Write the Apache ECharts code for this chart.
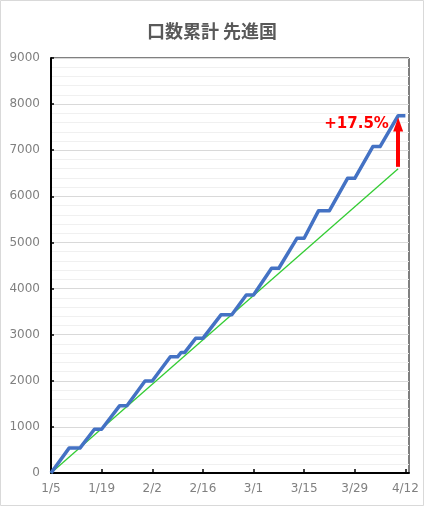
<!DOCTYPE html>
<html><head><meta charset="utf-8">
<script src="https://cdn.jsdelivr.net/npm/echarts@6/dist/echarts.min.js"></script>
<style>html,body{margin:0;padding:0;background:#fff}#c{width:424px;height:506px}</style>
</head><body><div id="c"></div>
<script>
const titleText = '口数累計 先進国';
const blueDates  = ['1/5','1/10','1/13','1/17','1/19','1/24','1/26','1/31','2/2','2/7','2/9','2/10','2/11','2/14','2/16','2/21','2/24','2/28','3/1','3/6','3/8','3/13','3/15','3/19','3/22','3/27','3/29','4/3','4/5','4/10','4/12'];
const blueValues = [0,540,540,950,950,1460,1460,1995,1995,2520,2520,2615,2615,2920,2920,3430,3430,3860,3860,4440,4440,5090,5090,5690,5690,6390,6390,7080,7080,7750,7750];
const trendDates = ['1/5','4/10'];
const trendValues = [0,6600];
const arrowDate = '4/10';
const arrowValues = [6640,7560];
const annotationText = '+17.5%';
const annotationDate = '3/29';
const annotationValue = 7570;
const xTickLabels = ['1/5','1/19','2/2','2/16','3/1','3/15','3/29','4/12'];
const xMaxDate = '4/13';

function dayOf(md){const [m,d]=md.split('/').map(Number);return Math.round((Date.UTC(2020,m-1,d)-Date.UTC(2020,0,5))/86400000);}
const blueData = blueDates.map((d,i)=>[dayOf(d),blueValues[i]]);
const trendData = trendDates.map((d,i)=>[dayOf(d),trendValues[i]]);
const font = 'DejaVu Sans';

const chart = echarts.init(document.getElementById('c'),null,{renderer:'canvas'});
chart.setOption({
  animation:false,
  backgroundColor:'#fff',
  title:{text:titleText,left:'center',top:17,textStyle:{fontFamily:'Noto Sans CJK JP',fontSize:18,fontWeight:'bold',color:'#595959'}},
  graphic:[{type:'rect',shape:{x:0.5,y:0.5,width:423,height:505},style:{fill:'none',stroke:'#d9d9d9',lineWidth:1},silent:true}],
  grid:{left:51,right:15,top:58,bottom:33,show:true,borderColor:'#000',borderWidth:1,backgroundColor:'transparent'},
  xAxis:{type:'value',min:0,max:dayOf(xMaxDate),interval:14,
    axisLine:{lineStyle:{color:'#000',width:2}},
    axisTick:{inside:true,length:4,lineStyle:{color:'#000',width:1.5}},
    axisLabel:{margin:10,fontFamily:font,fontSize:12,color:'#808080',showMaxLabel:false,
      formatter:v=>(v%14===0&&xTickLabels[v/14]!==undefined)?xTickLabels[v/14]:''},
    splitLine:{show:false}},
  yAxis:{type:'value',min:0,max:9000,interval:1000,
    axisLine:{show:true,lineStyle:{color:'#000',width:2}},
    axisTick:{show:true,inside:true,length:3,lineStyle:{color:'#000',width:1.5}},
    axisLabel:{margin:11,fontFamily:font,fontSize:12,color:'#808080',formatter:v=>String(v)},
    splitLine:{lineStyle:{color:'#d9d9d9',width:1}},
    minorTick:{show:false,splitNumber:5},
    minorSplitLine:{show:true,lineStyle:{color:'#f0f0f0',width:1}}},
  series:[
    {type:'line',data:trendData,symbol:'none',lineStyle:{color:'#33cc33',width:1.3},z:2,
     markLine:{silent:true,symbol:['none','triangle'],symbolSize:[10,14],
       lineStyle:{color:'#ff0000',width:4,type:'solid'},label:{show:false},
       data:[[{coord:[dayOf(arrowDate),arrowValues[0]]},{coord:[dayOf(arrowDate),arrowValues[1]]}]]},
     markPoint:{silent:true,symbol:'circle',symbolSize:0,
       label:{show:true,position:'inside',formatter:annotationText,fontFamily:font,fontWeight:'bold',fontSize:15,color:'#ff0000'},
       data:[{coord:[dayOf(annotationDate)+0.5,annotationValue]}]}},
    {type:'line',data:blueData,symbol:'none',lineStyle:{color:'#4472c4',width:3.5,join:'round'},z:3}
  ]
});
</script></body></html>
